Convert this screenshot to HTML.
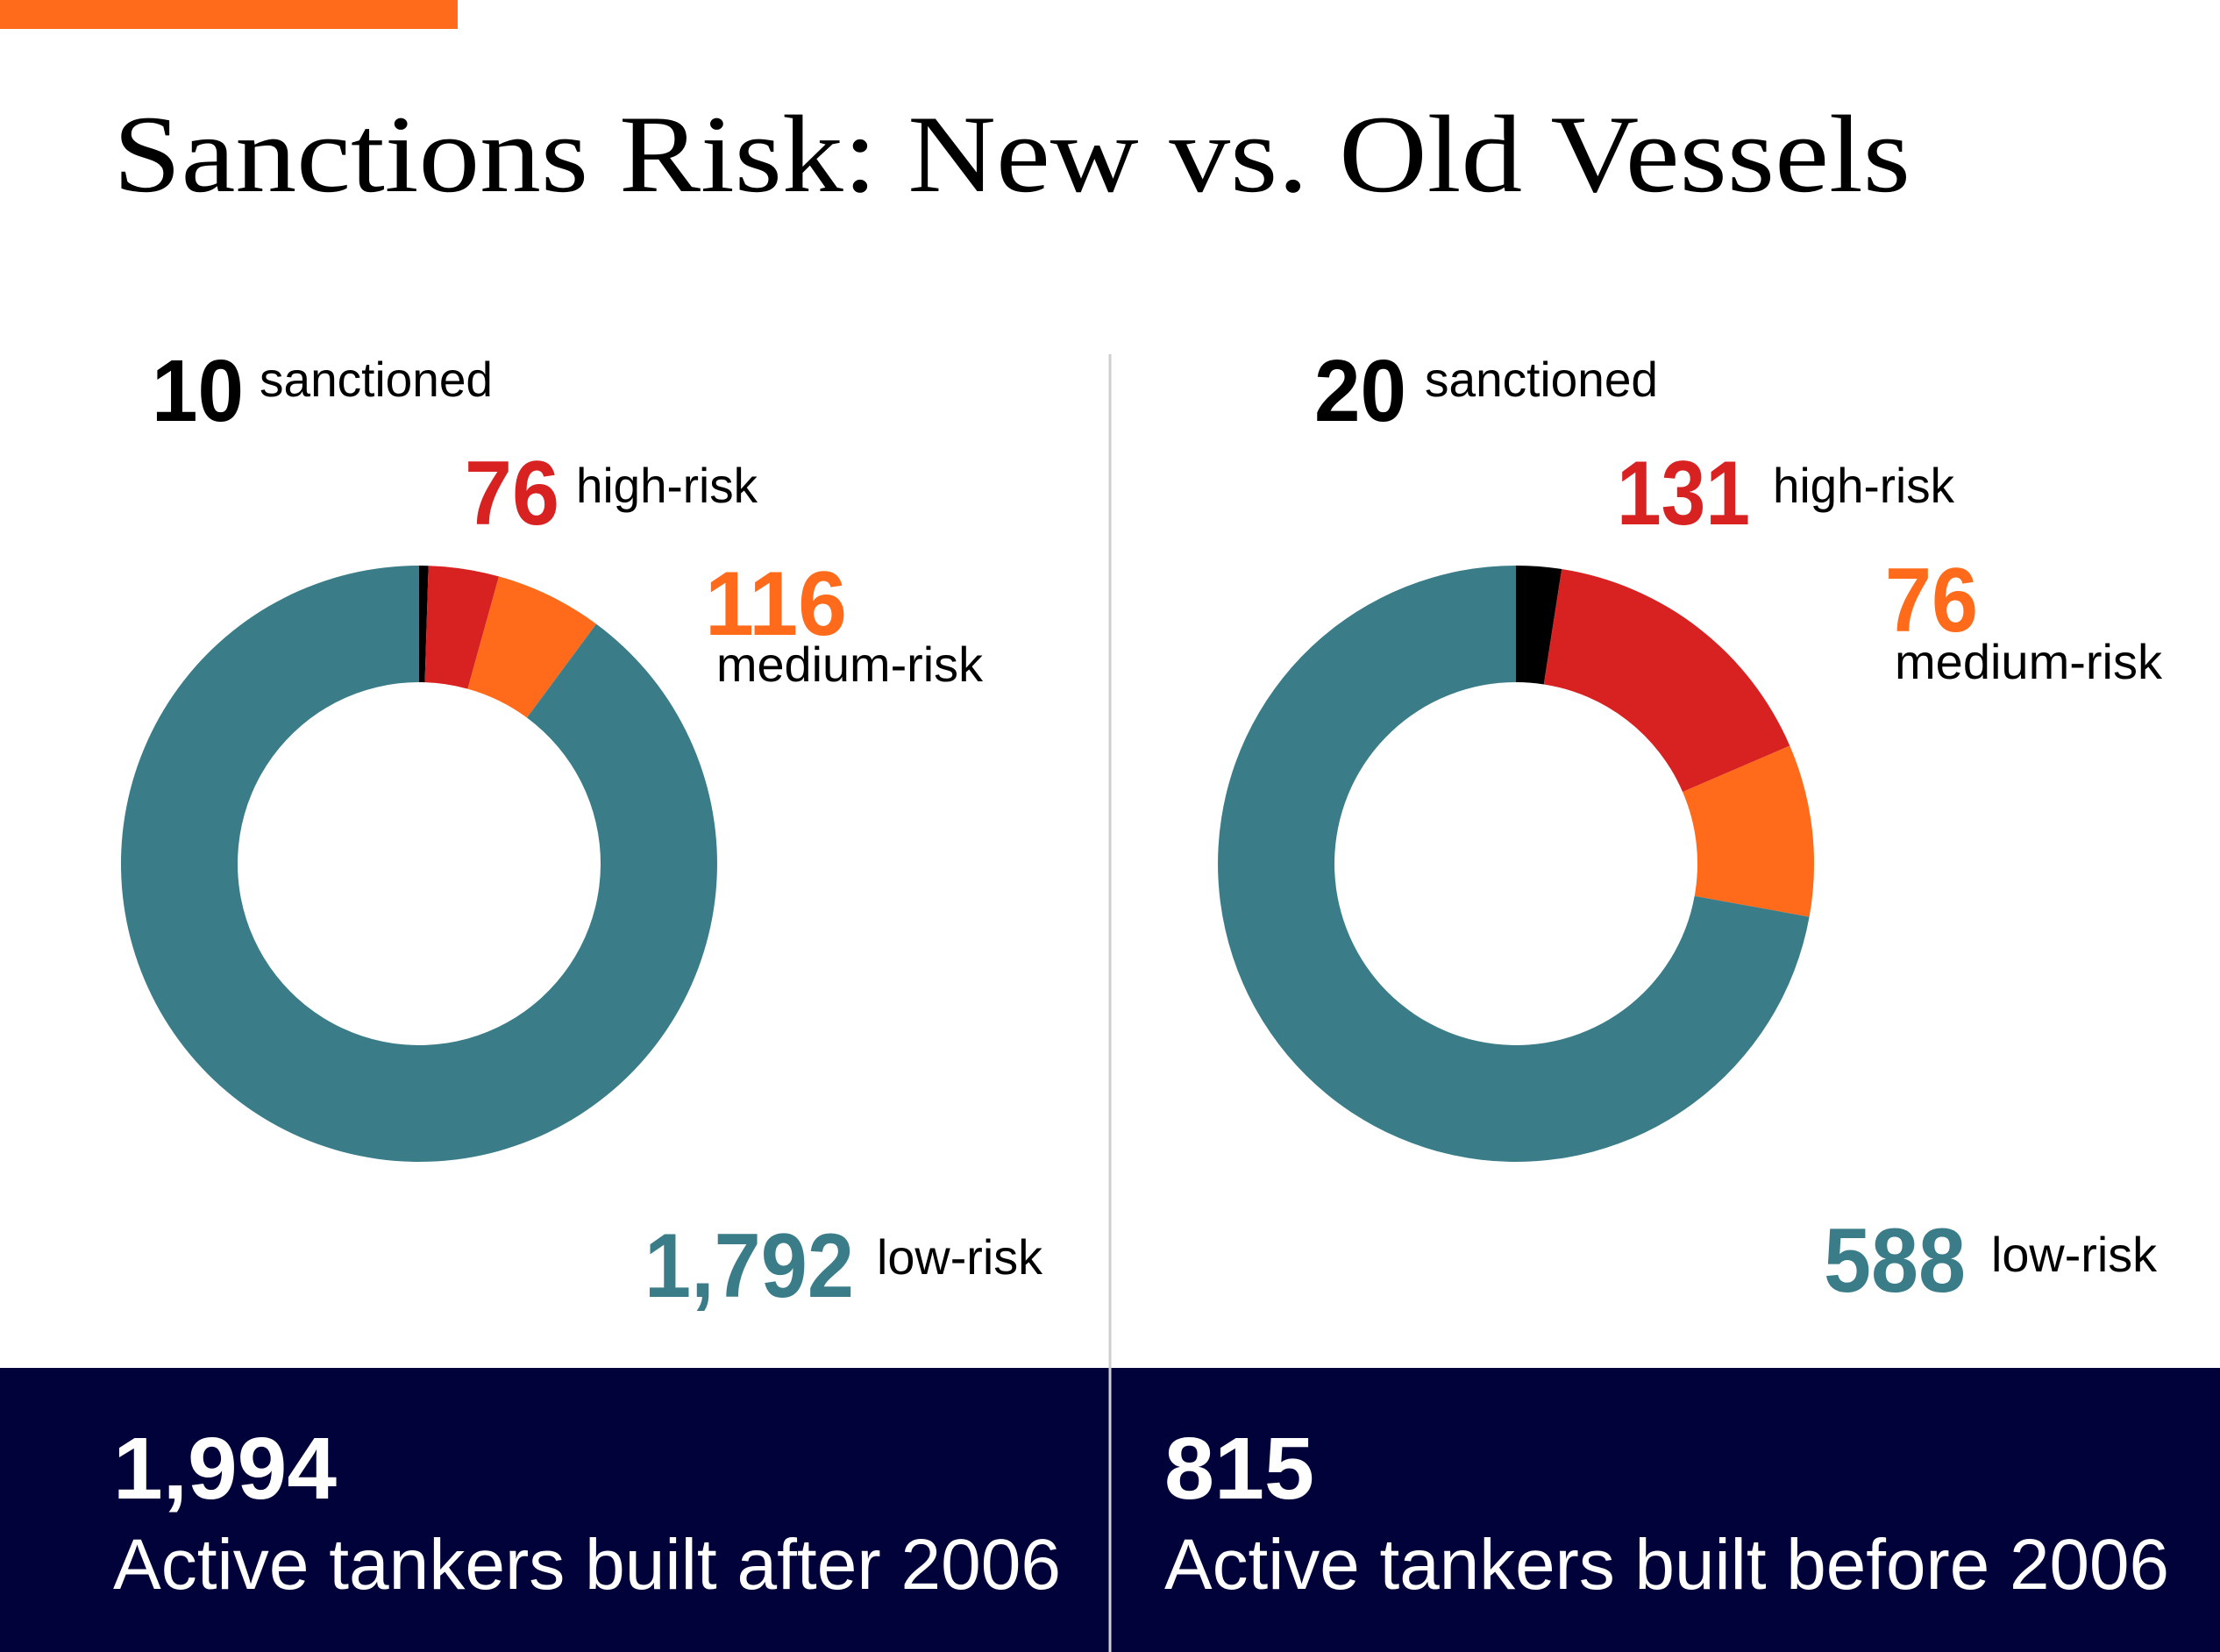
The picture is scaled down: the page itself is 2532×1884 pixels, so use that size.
<!DOCTYPE html>
<html><head><meta charset="utf-8"><style>
html,body{margin:0;padding:0;background:#fff;}
svg{display:block;}
text{font-family:"Liberation Sans",sans-serif;}
</style></head><body>
<svg width="2532" height="1884" viewBox="0 0 2532 1884" xmlns="http://www.w3.org/2000/svg">
<rect width="2532" height="1884" fill="#fff"/>
<rect x="0" y="0" width="522" height="33" fill="#ff6b1a"/>
<text x="129" y="218" style="font-family:'Liberation Serif',serif" font-size="126" fill="#000" textLength="2050" lengthAdjust="spacingAndGlyphs">Sanctions Risk: New vs. Old Vessels</text>

<!-- left donut -->
<path d="M478,645 A340,340 0 0 1 488.7,645.2 L484.5,778.1 A207,207 0 0 0 478,778 Z" fill="#000"/>
<path d="M488.7,645.2 A340,340 0 0 1 569,657.4 L533.4,785.6 A207,207 0 0 0 484.5,778.1 Z" fill="#d82222"/>
<path d="M569,657.4 A340,340 0 0 1 680.1,711.6 L601,818.5 A207,207 0 0 0 533.4,785.6 Z" fill="#ff6b1a"/>
<path d="M680.1,711.6 A340,340 0 1 1 478,645 L478,778 A207,207 0 1 0 601,818.5 Z" fill="#3a7d89"/>

<!-- right donut -->
<path d="M1729,645 A340,340 0 0 1 1781.2,649 L1760.8,780.5 A207,207 0 0 0 1729,778 Z" fill="#000"/>
<path d="M1781.2,649 A340,340 0 0 1 2041.3,850.5 L1919.1,903.1 A207,207 0 0 0 1760.8,780.5 Z" fill="#d82222"/>
<path d="M2041.3,850.5 A340,340 0 0 1 2063.6,1045.6 L1932.7,1021.9 A207,207 0 0 0 1919.1,903.1 Z" fill="#ff6b1a"/>
<path d="M2063.6,1045.6 A340,340 0 1 1 1729,645 L1729,778 A207,207 0 1 0 1932.7,1021.9 Z" fill="#3a7d89"/>

<!-- left labels -->
<text x="173" y="480" font-size="100" font-weight="bold" fill="#000" textLength="105" lengthAdjust="spacingAndGlyphs">10</text>
<text x="296" y="452" font-size="56" fill="#000" textLength="266" lengthAdjust="spacingAndGlyphs">sanctioned</text>
<text x="530" y="598" font-size="104" font-weight="bold" fill="#d82222" textLength="108" lengthAdjust="spacingAndGlyphs">76</text>
<text x="657" y="573" font-size="56" fill="#000" textLength="207" lengthAdjust="spacingAndGlyphs">high-risk</text>
<text x="804" y="724" font-size="104" font-weight="bold" fill="#ff6b1a" textLength="162" lengthAdjust="spacingAndGlyphs">116</text>
<text x="817" y="777" font-size="56" fill="#000" textLength="304" lengthAdjust="spacingAndGlyphs">medium-risk</text>
<text x="735" y="1479" font-size="104" font-weight="bold" fill="#3a7d89" textLength="239" lengthAdjust="spacingAndGlyphs">1,792</text>
<text x="1000" y="1453" font-size="56" fill="#000" textLength="189" lengthAdjust="spacingAndGlyphs">low-risk</text>

<!-- right labels -->
<text x="1499" y="480" font-size="100" font-weight="bold" fill="#000" textLength="105" lengthAdjust="spacingAndGlyphs">20</text>
<text x="1625" y="452" font-size="56" fill="#000" textLength="266" lengthAdjust="spacingAndGlyphs">sanctioned</text>
<text x="1844" y="598" font-size="104" font-weight="bold" fill="#d82222" textLength="152" lengthAdjust="spacingAndGlyphs">131</text>
<text x="2022" y="573" font-size="56" fill="#000" textLength="207" lengthAdjust="spacingAndGlyphs">high-risk</text>
<text x="2150" y="720" font-size="104" font-weight="bold" fill="#ff6b1a" textLength="106" lengthAdjust="spacingAndGlyphs">76</text>
<text x="2161" y="774" font-size="56" fill="#000" textLength="305" lengthAdjust="spacingAndGlyphs">medium-risk</text>
<text x="2080" y="1473" font-size="104" font-weight="bold" fill="#3a7d89" textLength="162" lengthAdjust="spacingAndGlyphs">588</text>
<text x="2271" y="1450" font-size="56" fill="#000" textLength="189" lengthAdjust="spacingAndGlyphs">low-risk</text>

<!-- bottom band -->
<rect x="0" y="1560" width="2532" height="324" fill="#01023a"/>
<line x1="1266" y1="404" x2="1266" y2="1884" stroke="#cfcfcf" stroke-width="3"/>
<text x="129" y="1709" font-size="100" font-weight="bold" fill="#fff" textLength="255" lengthAdjust="spacingAndGlyphs">1,994</text>
<text x="129" y="1812" font-size="82" fill="#fff" textLength="1081" lengthAdjust="spacingAndGlyphs">Active tankers built after 2006</text>
<text x="1328" y="1709" font-size="100" font-weight="bold" fill="#fff" textLength="171" lengthAdjust="spacingAndGlyphs">815</text>
<text x="1328" y="1812" font-size="82" fill="#fff" textLength="1146" lengthAdjust="spacingAndGlyphs">Active tankers built before 2006</text>
</svg>
</body></html>
